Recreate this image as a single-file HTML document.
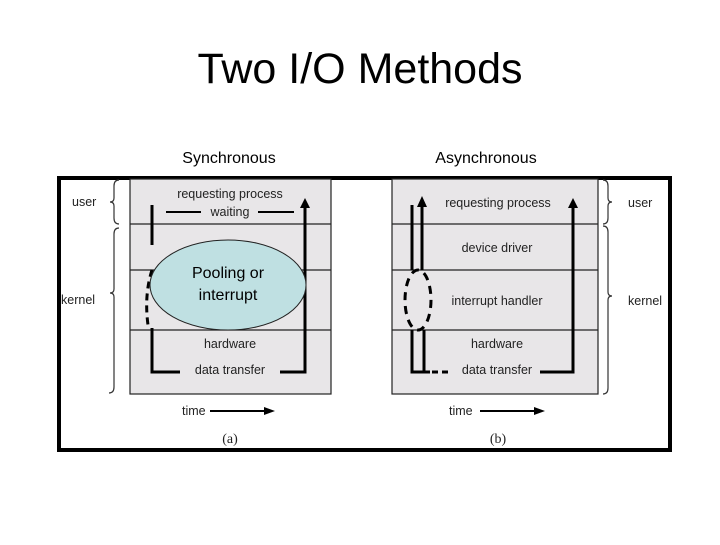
<!DOCTYPE html>
<html><head><style>
body{margin:0;background:#fff;}
</style></head><body>
<svg width="720" height="540" xmlns="http://www.w3.org/2000/svg" font-family="Liberation Sans, sans-serif">
<rect width="720" height="540" fill="#fff"/>
<text x="360" y="83" font-size="43" text-anchor="middle" fill="#000">Two I/O Methods</text>
<text x="229" y="163" font-size="16" text-anchor="middle">Synchronous</text>
<text x="486" y="163" font-size="16" text-anchor="middle">Asynchronous</text>
<rect x="59" y="178" width="611" height="272" fill="#fff" stroke="#000" stroke-width="4"/>
<g fill="#e8e6e8" stroke="#222" stroke-width="1.2">
<rect x="130" y="179" width="201" height="215"/>
<rect x="392" y="179" width="206" height="215"/>
</g>
<g stroke="#222" stroke-width="1.2">
<line x1="130" y1="224" x2="331" y2="224"/><line x1="130" y1="270" x2="331" y2="270"/><line x1="130" y1="330" x2="331" y2="330"/>
<line x1="392" y1="224" x2="598" y2="224"/><line x1="392" y1="270" x2="598" y2="270"/><line x1="392" y1="330" x2="598" y2="330"/>
</g>
<g fill="none" stroke="#333" stroke-width="1.2">
<path d="M119 180 q-5 0 -5 6 v12 q0 4 -4 4 q4 0 4 4 v12 q0 6 5 6"/>
<path d="M119 228 q-5 0 -5 6 v55 q0 4 -4 4 q4 0 4 4 v90 q0 6 -5 6"/>
<path d="M603 180 q5 0 5 6 v12 q0 4 4 4 q-4 0 -4 4 v12 q0 6 -5 6"/>
<path d="M603 226 q5 0 5 6 v60 q0 4 4 4 q-4 0 -4 4 v88 q0 6 -5 6"/>
</g>
<g font-size="12.5" fill="#222">
<text x="72" y="206">user</text><text x="61" y="304">kernel</text>
<text x="628" y="207">user</text><text x="628" y="305">kernel</text>
<text x="230" y="198" text-anchor="middle">requesting process</text>
<text x="230" y="216" text-anchor="middle">waiting</text>
<text x="230" y="348" text-anchor="middle">hardware</text>
<text x="230" y="374" text-anchor="middle">data transfer</text>
<text x="498" y="207" text-anchor="middle">requesting process</text>
<text x="497" y="252" text-anchor="middle">device driver</text>
<text x="497" y="305" text-anchor="middle">interrupt handler</text>
<text x="497" y="348" text-anchor="middle">hardware</text>
<text x="497" y="374" text-anchor="middle">data transfer</text>
<text x="182" y="415">time</text><text x="449" y="415">time</text>
<text x="230" y="443" text-anchor="middle" font-family="Liberation Serif, serif" font-size="14">(a)</text><text x="498" y="443" text-anchor="middle" font-family="Liberation Serif, serif" font-size="14">(b)</text>
</g>
<g stroke="#000" stroke-width="3" fill="none">
<line x1="166" y1="212" x2="201" y2="212" stroke-width="2"/><line x1="258" y1="212" x2="294" y2="212" stroke-width="2"/>
<line x1="152" y1="205" x2="152" y2="245"/>
<path d="M152 270 q-8 25 -4 55" stroke-dasharray="7,5"/>
<polyline points="152,328 152,372 180,372"/>
<polyline points="280,372 305,372 305,205"/>
<line x1="412" y1="205" x2="412" y2="270"/>
<line x1="422" y1="270" x2="422" y2="205"/>
<ellipse cx="418" cy="300" rx="13" ry="30" stroke-dasharray="8,6"/>
<polyline points="424,330 424,372"/>
<polyline points="412,330 412,372 430,372"/>
<line x1="432" y1="372" x2="452" y2="372" stroke-dasharray="6,4"/>
<polyline points="540,372 573,372 573,205"/>
<line x1="210" y1="411" x2="265" y2="411" stroke-width="2"/>
<line x1="480" y1="411" x2="535" y2="411" stroke-width="2"/>
</g>
<g fill="#000">
<polygon points="305,198 300,208 310,208"/>
<polygon points="422,196 417,207 427,207"/>
<polygon points="573,198 568,208 578,208"/>
<polygon points="275,411 264,407 264,415"/>
<polygon points="545,411 534,407 534,415"/>
</g>
<ellipse cx="228" cy="285" rx="78" ry="45" fill="#bfe0e2" stroke="#222" stroke-width="1"/>
<text x="228" y="278" font-size="16" text-anchor="middle">Pooling or</text>
<text x="228" y="300" font-size="16" text-anchor="middle">interrupt</text>
</svg>
</body></html>
